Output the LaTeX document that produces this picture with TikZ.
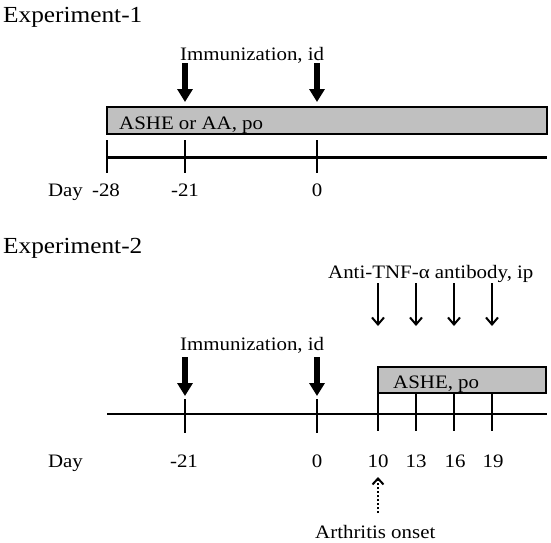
\documentclass[tikz,border=0pt]{standalone}
\usepackage{fontspec}
\setmainfont{Liberation Serif}[FakeStretch=1.1]
\usetikzlibrary{arrows.meta}
\definecolor{boxgray}{RGB}{192,192,192}
\begin{document}
\begin{tikzpicture}[x=1pt,y=-1pt,
  title/.style={font=\fontsize{23}{27}\selectfont, inner sep=0pt, anchor=base west},
  lbl/.style={font=\fontsize{19}{22}\selectfont, inner sep=0pt, anchor=base west},
  daylbl/.style={font=\fontsize{19}{22}\selectfont, inner sep=0pt, anchor=base},
  tline/.style={line width=2.8pt},
  tickmark/.style={line width=2.8pt},
  barbox/.style={draw, line width=2.4pt, fill=boxgray},
  thickarrow/.style={line width=6pt, -{Triangle[length=13pt,width=15pt]}},
  thinarrow/.style={line width=2pt, -{Straight Barb[length=7pt,width=12pt,line width=2pt]}},
  onsetarrow/.style={line width=2pt, dash pattern=on 2pt off 2pt, -{Straight Barb[length=6pt,width=11pt,line width=2pt]}}
]
\useasboundingbox (0,0) rectangle (551,542);

% ---------- Experiment 1 ----------
\node[title] (t1) at (3,22) {Experiment-1};
\node[lbl] (imm1) at (180,60) {Immunization, id};
\draw[barbox] (107,107) rectangle (547,134);
\node[lbl] (bar1) at (119,129) {ASHE or AA, po};

\coordinate (a1s) at (185,63); \coordinate (a1e) at (185,102);
\coordinate (a2s) at (317,63); \coordinate (a2e) at (317,102);
\draw[thickarrow] (a1s) -- (a1e);
\draw[thickarrow] (a2s) -- (a2e);

\draw[tline] (107,157.5) -- (547,157.5);
\foreach \x in {107,185,317} \draw[tickmark] (\x,140) -- (\x,173);

\node[daylbl] (d1) at (65.5,196) {Day};
\node[daylbl] (d1a) at (106,196) {-28};
\node[daylbl] (d1b) at (185,196) {-21};
\node[daylbl] (d1c) at (317,196) {0};

% ---------- Experiment 2 ----------
\node[title] (t2) at (3,253) {Experiment-2};
\node[lbl] (anti) at (328,278) {Anti-TNF-α antibody, ip};
\foreach \x/\n in {378/p,416/q,454/r,492/s} {
  \coordinate (\n s) at (\x,283); \coordinate (\n e) at (\x,326);
  \draw[thinarrow] (\n s) -- (\n e);
}
\node[lbl] (imm2) at (180,350) {Immunization, id};
\coordinate (b1s) at (185,357); \coordinate (b1e) at (185,396);
\coordinate (b2s) at (317,357); \coordinate (b2e) at (317,396);
\draw[thickarrow] (b1s) -- (b1e);
\draw[thickarrow] (b2s) -- (b2e);

\draw[barbox] (378,367) rectangle (546,393);
\node[lbl] (bar2) at (393,388) {ASHE, po};

\draw[tline] (107,414) -- (547,414);
\foreach \x in {185,317} \draw[tickmark] (\x,399) -- (\x,433);
\foreach \x in {378,416,454,492} \draw[tickmark] (\x,394) -- (\x,431);

\node[daylbl] (d2) at (65.5,467) {Day};
\node[daylbl] (d2a) at (184,467) {-21};
\node[daylbl] (d2b) at (317,467) {0};
\node[daylbl] (d2c) at (378,467) {10};
\node[daylbl] (d2d) at (416,467) {13};
\node[daylbl] (d2e) at (455,467) {16};
\node[daylbl] (d2f) at (493,467) {19};

\coordinate (os) at (378,513); \coordinate (oe) at (378,477);
\draw[onsetarrow] (os) -- (oe);
\node[lbl] (onset) at (315,538) {Arthritis onset};
\end{tikzpicture}
\end{document}
